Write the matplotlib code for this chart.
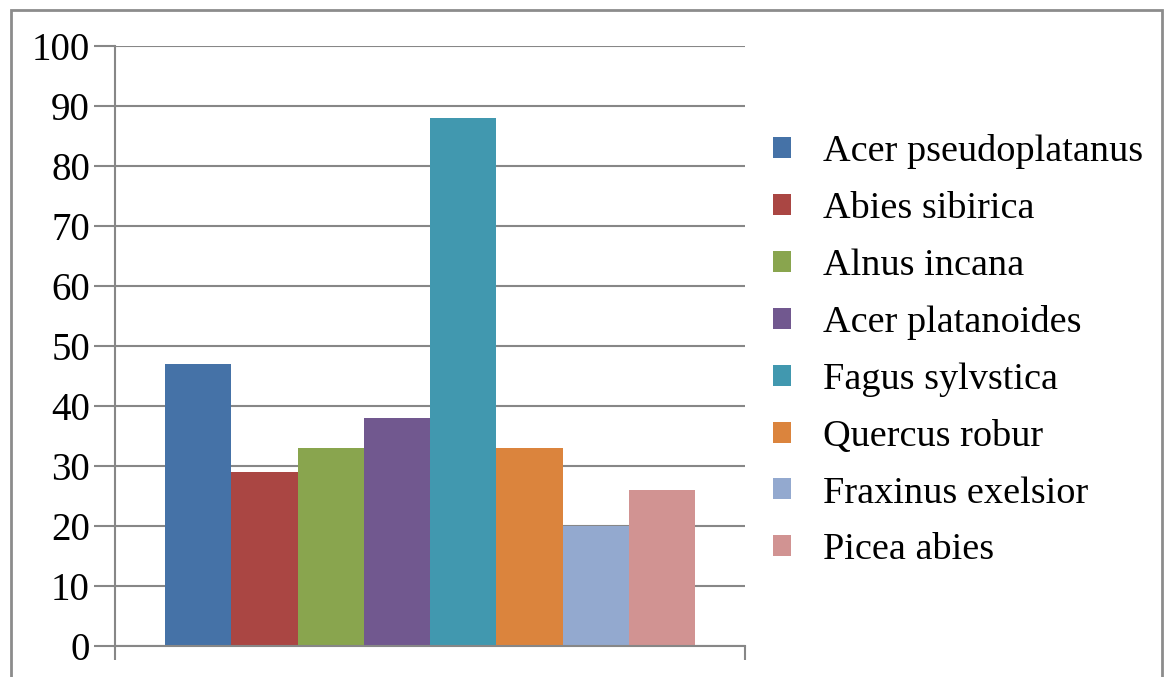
import numpy as np
import matplotlib
matplotlib.use("Agg")
import matplotlib.pyplot as plt
from matplotlib.patches import Rectangle

species = ['Acer pseudoplatanus', 'Abies sibirica', 'Alnus incana', 'Acer platanoides',
           'Fagus sylvstica', 'Quercus robur', 'Fraxinus exelsior', 'Picea abies']
values = [47, 29, 33, 38, 88, 33, 20, 26]
colors = ['#4572A7', '#AA4643', '#89A54E', '#71588F', '#4198AF', '#DB843D', '#93A9CF', '#D19392']
yticks = list(range(0, 101, 10))

plt.rcParams['font.family'] = ['Liberation Serif', 'DejaVu Serif']
grid_c = '#878787'

fig = plt.figure(figsize=(11.67, 6.77), dpi=100)
ax = fig.add_axes([115/1167, 1-646/677, 630/1167, 600/677])

n = len(values)
w = (530/630) / n
for i in range(n):
    ax.bar((i - (n-1)/2) * w, values[i], width=w, color=colors[i], label=species[i], zorder=3)

ax.set_xlim(-0.5, 0.5)
ax.set_ylim(0, 100)
ax.set_yticks(yticks)
ax.set_yticklabels([str(t) for t in yticks], fontsize=28)
ax.set_xticks([-0.5, 0.5])
ax.set_xticklabels(['', ''])
ax.tick_params(axis='y', length=15, width=1.5, color=grid_c, pad=3)
ax.tick_params(axis='x', length=10, width=1.5, color=grid_c)
ax.grid(axis='y', color=grid_c, linewidth=1.5, zorder=0)
for s in ['top', 'right']:
    ax.spines[s].set_visible(False)
for s in ['left', 'bottom']:
    ax.spines[s].set_color(grid_c)
    ax.spines[s].set_linewidth(1.5)
ax.spines['bottom'].set_zorder(4)

fig.legend(loc='upper left', bbox_to_anchor=(773/1167, 1-134/677), frameon=False,
           fontsize=27.5, handlelength=0.47, handleheight=0.47, handletextpad=0.85,
           labelspacing=0.585, borderaxespad=0, borderpad=0)

fig.patches.append(Rectangle((11/1167, -0.05), 1151/1167, 1.05 - 10/677, transform=fig.transFigure,
                             fill=False, edgecolor='#8c8c8c', linewidth=2))

fig.savefig('out.png', dpi=100)
